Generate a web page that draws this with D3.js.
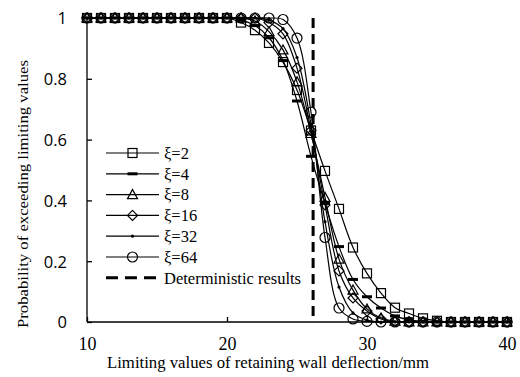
<!DOCTYPE html>
<html><head><meta charset="utf-8">
<script src="https://cdn.jsdelivr.net/npm/d3@7/dist/d3.min.js"></script>
<style>body{margin:0;background:#fff}svg{display:block}</style>
</head><body><div id="chart"></div>
<script>
const xValues = d3.range(10, 41);
const seriesNames = ["ξ=2","ξ=4","ξ=8","ξ=16","ξ=32","ξ=64"];
const xi2  = [1,1,1,1,1,1,1,1,1,1,1,0.985,0.96,0.918,0.855,0.763,0.63,0.497,0.372,0.245,0.16,0.095,0.047,0.028,0.012,0.004,0,0,0,0,0];
const xi4  = [1,1,1,1,1,1,1,1,1,1,1,0.993,0.975,0.935,0.86,0.727,0.545,0.39,0.248,0.14,0.083,0.046,0.02,0.007,0.002,0,0,0,0,0,0];
const xi8  = [1,1,1,1,1,1,1,1,1,1,1,1,0.99,0.955,0.895,0.79,0.62,0.41,0.207,0.105,0.043,0.013,0.003,0,0,0,0,0,0,0,0];
const xi16 = [1,1,1,1,1,1,1,1,1,1,1,1,1,0.985,0.948,0.835,0.63,0.385,0.168,0.079,0.036,0.01,0.002,0,0,0,0,0,0,0,0];
const xi32 = [1,1,1,1,1,1,1,1,1,1,1,1,1,0.993,0.965,0.87,0.65,0.33,0.115,0.03,0.006,0,0,0,0,0,0,0,0,0,0];
const xi64 = [1,1,1,1,1,1,1,1,1,1,1,1,1,1,0.995,0.934,0.69,0.278,0.046,0.01,0.002,0,0,0,0,0,0,0,0,0,0];
const deterministicX = [26.15, 26.15];
const deterministicY = [0, 1];
const xTicks = [10, 20, 30, 40];
const yTicks = [0, 0.2, 0.4, 0.6, 0.8, 1];
const yTickLabels = ["0","0.2","0.4","0.6","0.8","1"];
const legendLabels = ["ξ=2","ξ=4","ξ=8","ξ=16","ξ=32","ξ=64","Deterministic results"];

const W = 520, H = 377;
const svg = d3.select("#chart").append("svg").attr("width", W).attr("height", H);
const x = d3.scaleLinear().domain([10, 40]).range([87, 507]);
const y = d3.scaleLinear().domain([0, 1]).range([322, 18]);

const allSeries = [xi2, xi4, xi8, xi16, xi32, xi64];
const markerTypes = ["square","dash","triangle","diamond","dot","circle"];

function drawMarker(g, type, cx, cy) {
  if (type === "square") g.append("rect").attr("x", cx-4.5).attr("y", cy-4.5).attr("width", 9).attr("height", 9).attr("fill","none").attr("stroke","#000").attr("stroke-width",1.2);
  else if (type === "dash") g.append("rect").attr("x", cx-5).attr("y", cy-1.5).attr("width", 10).attr("height", 3).attr("fill","#000");
  else if (type === "triangle") g.append("path").attr("d", `M${cx},${cy-5}L${cx+5},${cy+4}L${cx-5},${cy+4}Z`).attr("fill","none").attr("stroke","#000").attr("stroke-width",1.2);
  else if (type === "diamond") g.append("path").attr("d", `M${cx},${cy-5}L${cx+5},${cy}L${cx},${cy+5}L${cx-5},${cy}Z`).attr("fill","none").attr("stroke","#000").attr("stroke-width",1.2);
  else if (type === "dot") g.append("circle").attr("cx", cx).attr("cy", cy).attr("r", 1.6).attr("fill","#000");
  else if (type === "circle") g.append("circle").attr("cx", cx).attr("cy", cy).attr("r", 5).attr("fill","none").attr("stroke","#000").attr("stroke-width",1.2);
}

// axes
const yAxis = d3.axisLeft(y).tickValues(yTicks).tickSize(-5).tickFormat((d,i)=>yTickLabels[i]);
const gy = svg.append("g").attr("transform","translate(87,0)").call(yAxis);
gy.select(".domain").attr("stroke","#000").attr("stroke-width",1.3).attr("d","M0,322V18");
gy.selectAll(".tick line").attr("stroke","#000").attr("stroke-width",1.3);
gy.selectAll(".tick text").attr("x",-20).attr("font-family","'Open Sans', sans-serif").attr("font-size",16.5).attr("fill","#000").attr("dy","0.36em");

const xAxis = d3.axisBottom(x).tickValues(xTicks).tickSize(-5).tickFormat(d3.format("d"));
const gx = svg.append("g").attr("transform","translate(0,322)").call(xAxis);
gx.select(".domain").attr("stroke","#000").attr("stroke-width",1.3).attr("d","M87,0H509");
gx.selectAll(".tick line").attr("stroke","#000").attr("stroke-width",1.3);
gx.selectAll(".tick text").attr("y",15).attr("dy","0.71em").attr("font-family","'Liberation Serif', serif").attr("font-size",18).attr("fill","#000");

// series
const line = d3.line().x(d=>x(d[0])).y(d=>y(d[1])).curve(d3.curveCatmullRom.alpha(0.5));
allSeries.forEach((vals, si) => {
  const pts = xValues.map((xv,i)=>[xv, vals[i]]);
  svg.append("path").attr("d", line(pts)).attr("fill","none").attr("stroke","#000").attr("stroke-width",1.2);
});
allSeries.forEach((vals, si) => {
  const g = svg.append("g");
  xValues.forEach((xv,i)=> drawMarker(g, markerTypes[si], x(xv), y(vals[i])));
});

// deterministic
svg.append("line").attr("x1", x(deterministicX[0])).attr("x2", x(deterministicX[1]))
  .attr("y1", y(deterministicY[1])).attr("y2", y(deterministicY[0]))
  .attr("stroke","#000").attr("stroke-width",3).attr("stroke-dasharray","10,6");

// legend
const lg = svg.append("g");
legendLabels.forEach((lab, i) => {
  const ly = 153 + i*20.8;
  if (i < 6) {
    lg.append("line").attr("x1",106).attr("x2",159).attr("y1",ly).attr("y2",ly).attr("stroke","#000").attr("stroke-width",1.2);
    drawMarker(lg, markerTypes[i], 132.5, ly);
  } else {
    lg.append("line").attr("x1",106).attr("x2",159).attr("y1",ly).attr("y2",ly).attr("stroke","#000").attr("stroke-width",3).attr("stroke-dasharray","12,7");
  }
  lg.append("text").attr("x",164).attr("y",ly).attr("dy","0.35em").attr("font-family","'Liberation Serif', serif").attr("font-size",16.5).attr("fill","#000").text(lab);
});

// titles
svg.append("text").attr("x",268).attr("y",368).attr("text-anchor","middle").attr("font-family","'Liberation Serif', serif").attr("font-size",16).attr("textLength",322).attr("lengthAdjust","spacingAndGlyphs").attr("fill","#000").text("Limiting values of retaining wall deflection/mm");
svg.append("text").attr("transform","translate(28,194) rotate(-90)").attr("text-anchor","middle").attr("font-family","'Liberation Serif', serif").attr("font-size",15).attr("textLength",268).attr("lengthAdjust","spacingAndGlyphs").attr("fill","#000").text("Probability of exceeding limiting values");
</script></body></html>
